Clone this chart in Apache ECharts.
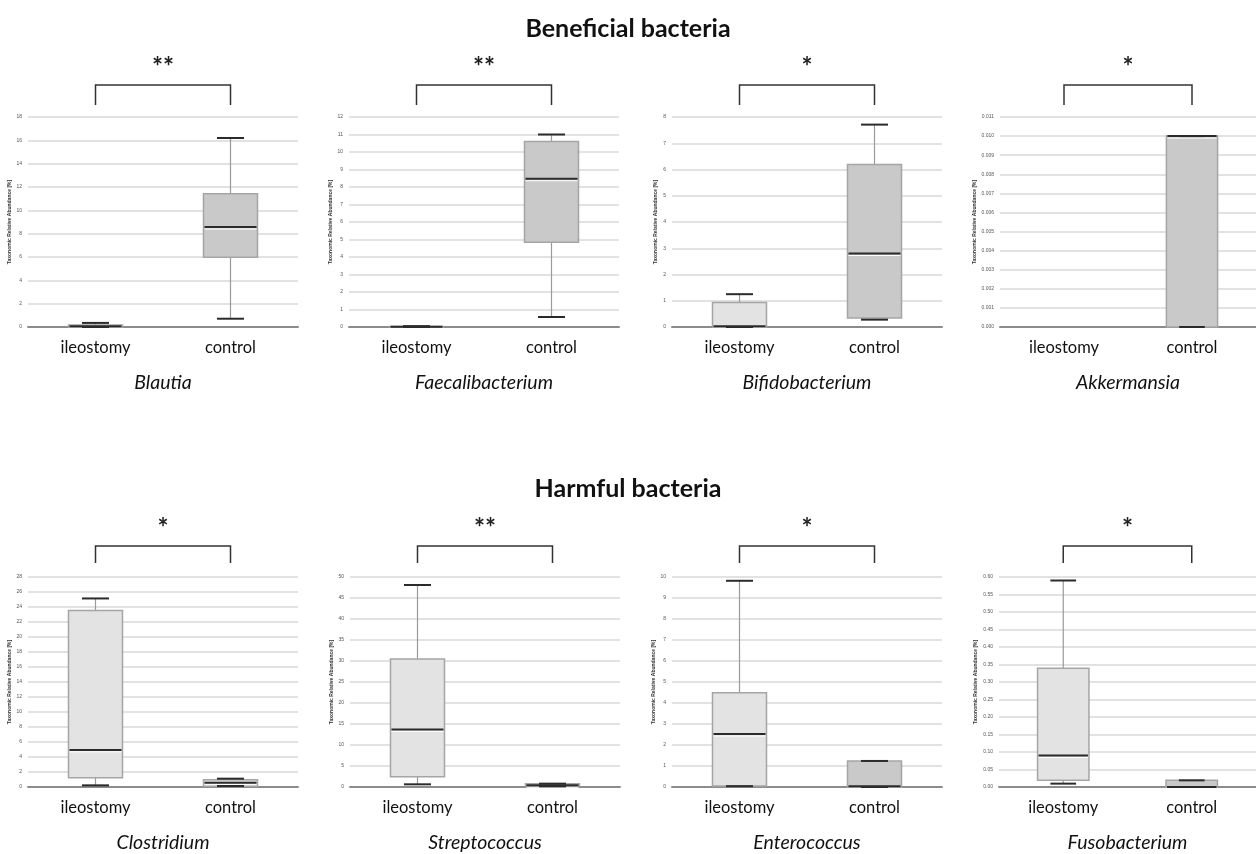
<!DOCTYPE html>
<html>
<head>
<meta charset="utf-8">
<script src="https://cdn.jsdelivr.net/npm/echarts@6/dist/echarts.min.js"></script>
<style>
  html, body { margin: 0; padding: 0; background: #fff; }
  #main { width: 1256px; height: 854px; }
</style>
</head>
<body>
<div id="main"></div>
<script>
// groups and genera
var groups = ['ileostomy', 'control'];
var genera = ['Blautia', 'Faecalibacterium', 'Bifidobacterium', 'Akkermansia',
              'Clostridium', 'Streptococcus', 'Enterococcus', 'Fusobacterium'];
var stars = ['**', '**', '*', '*', '*', '**', '*', '*'];

// box stats: [min, Q1, median, Q3, max]
var ileoStats = [
  [0, 0, 0.06, 0.17, 0.35],
  [0, 0.01, 0.02, 0.03, 0.05],
  [0, 0, 0.03, 0.93, 1.25],
  [0, 0, 0, 0, 0],
  [0.22, 1.25, 4.95, 23.54, 25.14],
  [0.64, 2.47, 13.7, 30.5, 48.1],
  [0.04, 0.05, 2.52, 4.49, 9.82],
  [0.0096, 0.019, 0.09, 0.339, 0.59]
];
var ctrlStats = [
  [0.71, 5.97, 8.57, 11.43, 16.2],
  [0.57, 4.85, 8.47, 10.6, 11.0],
  [0.28, 0.34, 2.80, 6.19, 7.71],
  [0, 0, 0.010, 0.010, 0.010],
  [0.13, 0.1, 0.58, 0.98, 1.11],
  [0.15, 0.24, 0.4, 0.8, 0.8],
  [0, 0, 0.03, 1.24, 1.24],
  [0, 0, 0, 0.019, 0.019]
];

// y axes
var yMax = [18, 12, 8, 0.011, 28, 50, 10, 0.6];
var yStep = [2, 1, 1, 0.001, 2, 5, 1, 0.05];
var yDecimals = [0, 0, 0, 3, 0, 0, 0, 2];

// layout
var gridLeft = [28, 349, 672, 1000, 28, 350, 672, 999];
var gridTop = [117, 117, 117, 117, 577, 577, 577, 577];
var gridW = 270, gridH = 210;
var ileoFill = '#e3e3e3';
var ctrlFill = ['#c9c9c9', '#c9c9c9', '#c9c9c9', '#c9c9c9', '#e3e3e3', '#c9c9c9', '#c9c9c9', '#c9c9c9'];

var FONT = 'Lato, "Open Sans", sans-serif';

function renderBox(params, api) {
  var cat = api.value(0);
  var v = [api.value(1), api.value(2), api.value(3), api.value(4), api.value(5)];
  if (v[4] === 0) return null;
  var bw = api.size([1, 0])[0] * 0.4;
  var cw = bw * 0.5;
  var x = api.coord([cat, 0])[0];
  var y = v.map(function (d) { return api.coord([cat, d])[1]; });
  var fill = api.value(6) === 0 ? ileoFill : ctrlFill[params.seriesIndex];
  var whisk = { stroke: '#9a9a9a', lineWidth: 1.2 };
  var cap = { stroke: '#2b2b2b', lineWidth: 2 };
  return {
    type: 'group',
    children: [
      { type: 'line', shape: { x1: x, y1: y[4], x2: x, y2: y[3] }, style: whisk },
      { type: 'line', shape: { x1: x, y1: y[1], x2: x, y2: y[0] }, style: whisk },
      { type: 'rect', shape: { x: x - bw / 2, y: y[3], width: bw, height: Math.max(y[1] - y[3], 0.5) },
        style: { fill: fill, stroke: '#a5a5a5', lineWidth: 1.5 } },
      { type: 'line', shape: { x1: x - bw / 2 + 1, y1: y[2] + 2, x2: x + bw / 2 - 1, y2: y[2] + 2 },
        style: { stroke: '#ffffff', lineWidth: 1 } },
      { type: 'line', shape: { x1: x - bw / 2 + 1, y1: y[2], x2: x + bw / 2 - 1, y2: y[2] }, style: cap },
      { type: 'line', shape: { x1: x - cw / 2, y1: y[4], x2: x + cw / 2, y2: y[4] }, style: cap },
      { type: 'line', shape: { x1: x - cw / 2, y1: y[0], x2: x + cw / 2, y2: y[0] }, style: cap }
    ]
  };
}

var grids = [], xAxes = [], yAxes = [], series = [];
for (var i = 0; i < 8; i++) {
  var top = i < 4;
  grids.push({ left: gridLeft[i], top: gridTop[i], width: gridW, height: gridH });
  xAxes.push({
    type: 'category', gridIndex: i, data: groups,
    axisLine: { lineStyle: { color: '#8c8c8c', width: 2 } },
    axisTick: { alignWithLabel: true, length: 3, lineStyle: { color: '#8c8c8c' } },
    axisLabel: { fontSize: 16.5, color: '#111', fontFamily: FONT, margin: top ? 12 : 8 },
    name: genera[i], nameLocation: 'middle', nameGap: top ? 46 : 48,
    nameTextStyle: { fontSize: 19.5, fontStyle: 'italic', color: '#111', fontFamily: FONT }
  });
  (function (d) {
    yAxes.push({
      type: 'value', gridIndex: i, min: 0, max: yMax[i], interval: yStep[i],
      axisLine: { show: false }, axisTick: { show: false },
      axisLabel: { fontSize: 5, color: '#555', margin: 6,
        formatter: function (v) { return v.toFixed(d); } },
      splitLine: { lineStyle: { color: '#d9d9d9', width: 1.5 } },
      name: 'Taxonomic Relative Abundance [%]', nameLocation: 'middle',
      nameGap: d >= 2 ? 21 : 14,
      nameTextStyle: { fontSize: 5, fontWeight: 'bold', color: '#333' }
    });
  })(yDecimals[i]);
  series.push({
    type: 'custom', xAxisIndex: i, yAxisIndex: i,
    renderItem: renderBox, clip: false,
    encode: { x: 0, y: [1, 2, 3, 4, 5] },
    data: [[0].concat(ileoStats[i], [0]), [1].concat(ctrlStats[i], [1])]
  });
}

var chart = echarts.init(document.getElementById('main'));
chart.setOption({
  animation: false,
  backgroundColor: '#fff',
  title: [
    { text: 'Beneficial bacteria', left: 'center', top: 11,
      textStyle: { fontSize: 25, fontWeight: 'bold', color: '#111', fontFamily: FONT } },
    { text: 'Harmful bacteria', left: 'center', top: 471,
      textStyle: { fontSize: 25, fontWeight: 'bold', color: '#111', fontFamily: FONT } }
  ],
  grid: grids, xAxis: xAxes, yAxis: yAxes, series: series
});

// significance brackets from axis positions
var graphics = [];
for (var j = 0; j < 8; j++) {
  var x1 = chart.convertToPixel({ xAxisIndex: j }, 'ileostomy');
  var x2 = chart.convertToPixel({ xAxisIndex: j }, 'control');
  var yb = j < 4 ? 85 : 546;
  var yt = j < 4 ? 105 : 563;
  graphics.push({
    type: 'polyline', shape: { points: [[x1, yt], [x1, yb], [x2, yb], [x2, yt]] },
    style: { stroke: '#333', lineWidth: 1.5, fill: null }
  });
  graphics.push({
    type: 'text', x: (x1 + x2) / 2, y: yb - 4,
    style: { text: stars[j], fontSize: 26, fontWeight: 'bold', fill: '#222',
      align: 'center', verticalAlign: 'bottom', fontFamily: FONT }
  });
}
chart.setOption({ graphic: graphics });
</script>
</body>
</html>
